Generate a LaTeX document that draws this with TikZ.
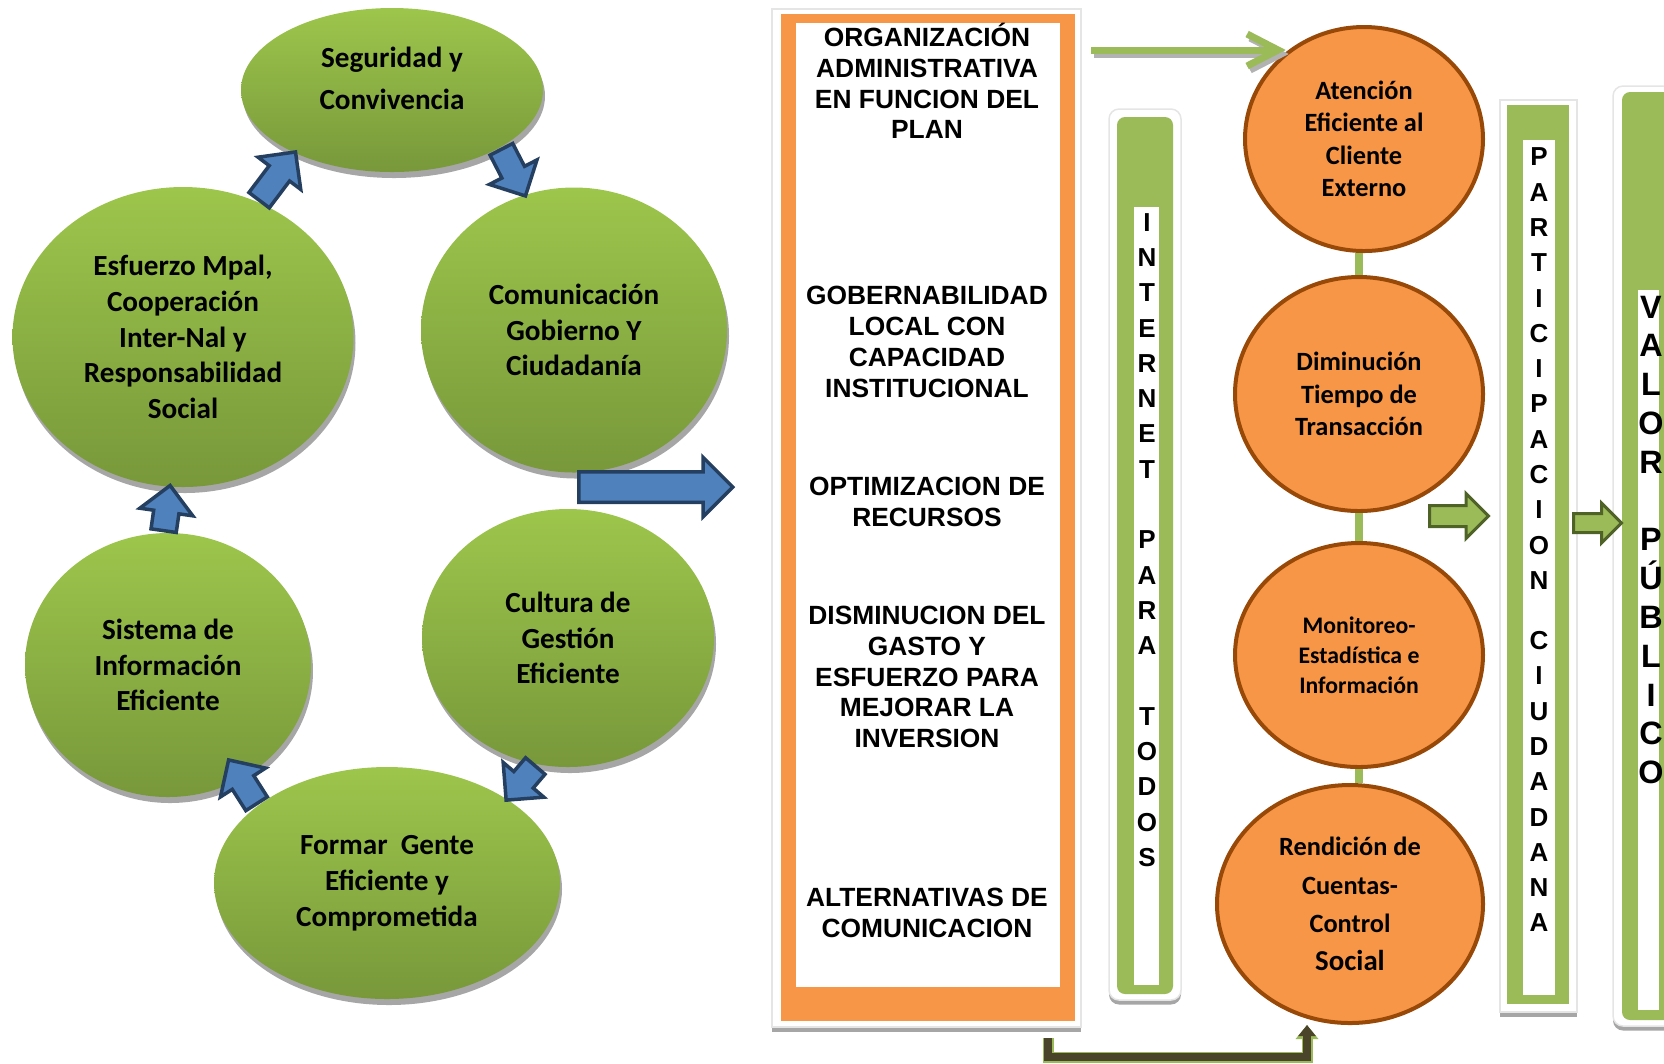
\documentclass[tikz,border=0pt]{standalone}
\usepackage{fontspec}
\setmainfont{Carlito}
\newfontfamily\arialfont{Liberation Sans}
\usepackage{tikz}
\usetikzlibrary{shapes.geometric,shapes.arrows,shadows,arrows.meta,calc}

\definecolor{verdeA}{RGB}{157,198,76}
\definecolor{verdeB}{RGB}{120,152,58}
\definecolor{verdeBarra}{RGB}{155,187,89}
\definecolor{verdeOsc}{RGB}{79,98,40}
\definecolor{azul}{RGB}{79,129,189}
\definecolor{azulOsc}{RGB}{36,63,96}
\definecolor{naranja}{RGB}{247,150,70}
\definecolor{cafe}{RGB}{152,72,7}
\definecolor{oliva}{RGB}{74,69,42}

\tikzset{
  verde/.style={ellipse, inner sep=0pt, top color=verdeA, bottom color=verdeB,
    drop shadow={shadow xshift=0.2mm, shadow yshift=-0.6mm, fill=black!35, opacity=1},
    align=center, font=\bfseries\fontsize{8.3}{10.2}\selectfont},
  circulo/.style={ellipse, inner sep=0pt, fill=naranja, draw=cafe, line width=0.4mm,
    align=center, font=\bfseries\fontsize{7.5}{9.25}\selectfont},
  flechaazul/.style={single arrow, fill=azul, draw=azulOsc, line width=0.35mm, anchor=tail,
    inner sep=0pt, text height=2.2mm, text depth=0pt, single arrow head extend=1.4mm},
  flechaverde/.style={single arrow, fill=verdeBarra, draw=verdeOsc, line width=0.3mm, anchor=tail,
    inner sep=0pt, text depth=0pt},
  marco/.style={fill=white, draw=black!10, line width=0.15mm,
    drop shadow={shadow xshift=0mm, shadow yshift=-0.45mm, fill=black!35, opacity=1}},
  caja/.style={font=\arialfont\bfseries\fontsize{7.5}{8.76}\selectfont, align=center},
  letras/.style={font=\arialfont\bfseries\fontsize{7.4}{10.04}\selectfont, align=center, inner sep=0pt},
  enlace/.style={draw=verdeBarra, line width=0.8mm},
  flechafina/.style={draw=verdeBarra, line width=0.7mm, -{Straight Barb[length=3.1mm,width=3.2mm]}}
}

\newcommand{\bloque}[3]{%
  \path let \p1=(#2), \p2=(#3) in
    node[flechaazul, rotate={atan2(\y2-\y1,\x2-\x1)},
      minimum height={veclen(\x2-\x1,\y2-\y1)}] (#1) at (#2) {};}

\begin{document}
\begin{tikzpicture}[x=0.1mm, y=-0.1mm]
\useasboundingbox (0,0) rectangle (1664,1063);
\clip (0,0) rectangle (1664,1063);

% ciclo
\node[verde, minimum width=30.2mm, minimum height=16.4mm, text depth=2.4mm,
  font=\bfseries\fontsize{8.3}{12}\selectfont] (seg) at (392,90) {Seguridad y\\Convivencia};
\node[verde, minimum width=30.6mm, minimum height=28.5mm] (com) at (574,330) {Comunicación\\Gobierno Y\\Ciudadanía};
\node[verde, minimum width=34.1mm, minimum height=30mm] (esf) at (183,337) {Esfuerzo Mpal,\\Cooperación\\Inter-Nal y\\Responsabilidad\\Social};
\node[verde, minimum width=29.2mm, minimum height=25.8mm] (cul) at (568,638) {Cultura de\\Gestión\\Eficiente};
\node[verde, minimum width=28.6mm, minimum height=26.4mm] (sis) at (168,665) {Sistema de\\Información\\Eficiente};
\node[verde, minimum width=34.6mm, minimum height=23.2mm] (form) at (387,883) {Formar~~Gente\\Eficiente y\\Comprometida};

\coordinate (p4) at ($(form.149)!5.2mm!(sis.center)$);
\bloque{f1}{esf.61}{seg.213}
\bloque{f2}{seg.332}{com.110}
\bloque{f3}{cul.256}{form.35}
\bloque{f4}{form.149}{p4}
\bloque{f5}{sis.92}{esf.265}
\node[flechaazul, text height=2.7mm, single arrow head extend=1.45mm, minimum height=15.4mm] (grande) at (577,487) {};

% caja
\draw[marco] (772,9) rectangle (1081,1027);
\node[fill=naranja, inner sep=0pt, minimum width=29.4mm, minimum height=100.7mm, anchor=north west] (caja) at (780,13) {};
\node[fill=white, inner sep=0pt, minimum width=26.4mm, minimum height=96.4mm, anchor=north west] (blanco) at (795,22) {};
\node[caja] (org) at (927,81) {ORGANIZACIÓN\\ADMINISTRATIVA\\EN FUNCION DEL\\PLAN};
\node[caja] (gob) at (927,342) {GOBERNABILIDAD\\LOCAL CON\\CAPACIDAD\\INSTITUCIONAL};
\node[caja] (opt) at (927,502) {OPTIMIZACION DE\\RECURSOS};
\node[caja] (dis) at (927,677) {DISMINUCION DEL\\GASTO Y\\ESFUERZO PARA\\MEJORAR LA\\INVERSION};
\node[caja] (alt) at (927,913) {ALTERNATIVAS DE\\COMUNICACION};

% barras
\draw[marco, rounded corners=1mm] (1109,109) rectangle (1181,1000);
\fill[verdeBarra, rounded corners=0.8mm] (1117,117) rectangle (1173,994);
\fill[white] (1134,207) rectangle (1159,985);
\node[letras] (internet) at (1147,540) {I\\N\\T\\E\\R\\N\\E\\T\\[3.53mm]P\\A\\R\\A\\[3.53mm]T\\O\\D\\O\\S};

\draw[marco] (1500,100) rectangle (1577,1012);
\fill[verdeBarra] (1507,105) rectangle (1569,1004);
\fill[white] (1523,140) rectangle (1555,995);
\node[letras] (particip) at (1539,540) {P\\A\\R\\T\\I\\C\\I\\P\\A\\C\\I\\O\\N\\[2.5mm]C\\I\\U\\D\\A\\D\\A\\N\\A};

\draw[marco, rounded corners=1mm] (1613,86) rectangle (1720,1026);
\fill[verdeBarra, rounded corners=0.8mm] (1622,92) rectangle (1712,1020);
\fill[white] (1638,290) rectangle (1659,1010);
\node[letras, font=\arialfont\bfseries\fontsize{9.2}{11.04}\selectfont] (valor) at (1651,540) {V\\A\\L\\O\\R\\[3.88mm]P\\Ú\\B\\L\\I\\C\\O};

% servicios
\node[circulo, minimum width=23.8mm, minimum height=22.4mm] (aten) at (1364,139) {Atención\\Eficiente al\\Cliente\\Externo};
\node[circulo, minimum width=24.8mm, minimum height=23.4mm] (dimi) at (1359,394) {Diminución\\Tiempo de\\Transacción};
\node[circulo, minimum width=24.8mm, minimum height=22.4mm,
  font=\bfseries\fontsize{6.75}{8.5}\selectfont] (moni) at (1359,655) {Monitoreo-\\Estadística e\\Información};
\node[circulo, minimum width=26.6mm, minimum height=23.8mm,
  font=\bfseries\fontsize{7.5}{10.9}\selectfont] (rend) at (1350,904) {Rendición de\\Cuentas-\\Control\\{\fontsize{8.2}{10.9}\selectfont Social}};

\draw[enlace] (dimi.north) -- (dimi.north |- aten.south);
\draw[enlace] (moni.north) -- (moni.north |- dimi.south);
\draw[enlace] (moni.south) -- (moni.south |- rend.north);

\coordinate (ini) at (1091,50);
\draw[flechafina, draw=black!30, transform canvas={shift={(0.3mm,-0.4mm)}}] (ini) -- (ini -| aten.132);
\draw[flechafina] (ini) -- (ini -| aten.132);

\coordinate (ini2) at (1048,1038);
\coordinate (esq) at (1307,1057);
\draw[verdeBarra, line width=1.1mm, -{Triangle[length=1.4mm,width=2.2mm]}] (ini2) |- (esq) -- (esq |- rend.south);
\draw[oliva, line width=0.75mm, -{Triangle[length=1.1mm,width=1.7mm]}] (ini2) |- (esq) -- (esq |- rend.south);

\node[flechaverde, text height=1.8mm, single arrow head extend=1.2mm, minimum height=5.9mm] (fv1) at (1428,516) {};
\node[flechaverde, text height=1.6mm, single arrow head extend=1.05mm, minimum height=4.8mm] (fv2) at (1572,523) {};
\end{tikzpicture}
\end{document}
